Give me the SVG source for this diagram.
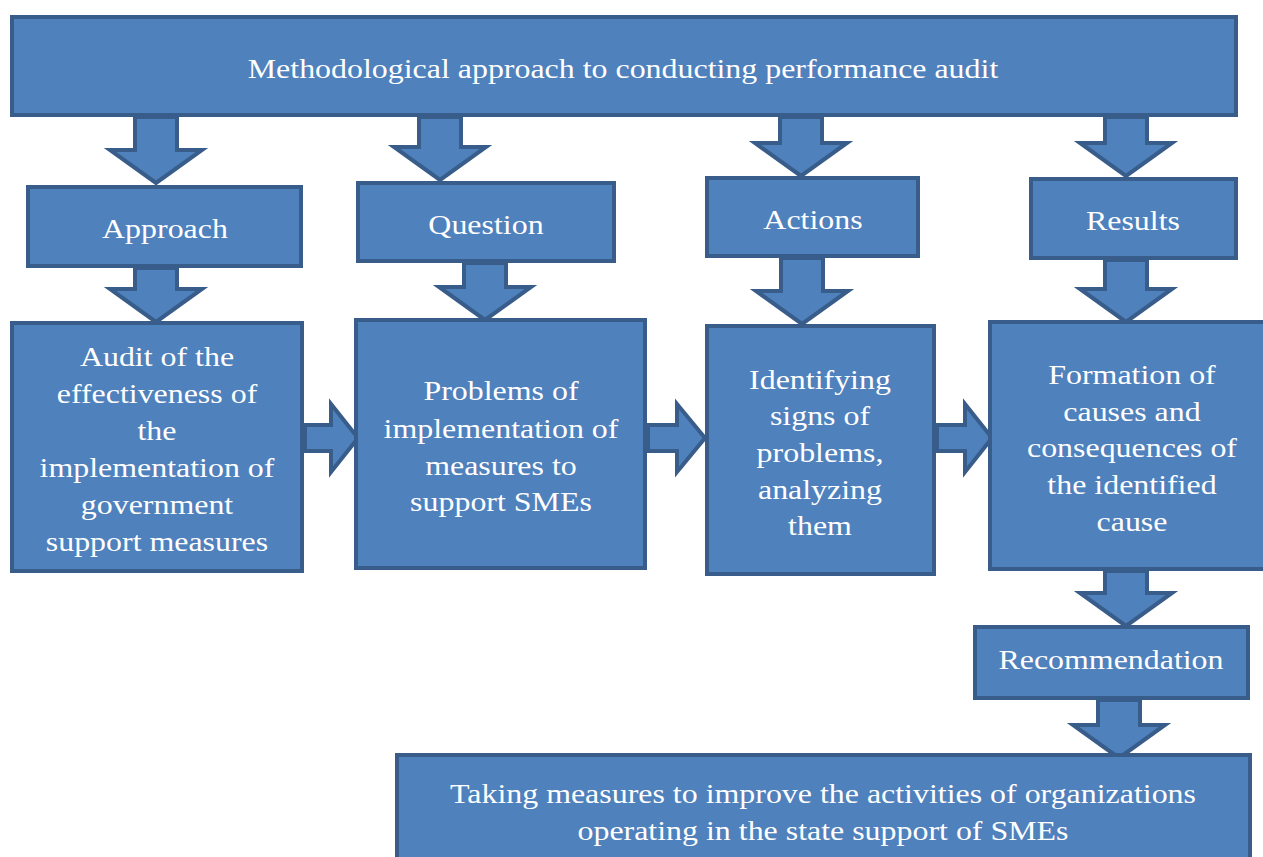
<svg xmlns="http://www.w3.org/2000/svg" width="1263" height="857" viewBox="0 0 1263 857">
<style>
.b{fill:#4F81BD;stroke:#385D8A;stroke-width:4}
.a{fill:#4F81BD;stroke:#385D8A;stroke-width:4;stroke-linejoin:miter}
text{font-family:"Liberation Serif","Times New Roman",serif;font-size:28px;fill:#fff;text-anchor:middle}
</style>
<rect width="1263" height="857" fill="#fff"/>
<g id="connectors">
<path class="a" d="M135 117 H177 V150 H202 L156 183 L110 150 H135 Z"/>
<path class="a" d="M419 117 H461 V147 H486 L440 180 L394 147 H419 Z"/>
<path class="a" d="M780 117 H822 V143 H847 L801 176 L755 143 H780 Z"/>
<path class="a" d="M1105 117 H1147 V143 H1172 L1126 176 L1080 143 H1105 Z"/>
<path class="a" d="M135 268 H177 V289 H202 L156 322 L110 289 H135 Z"/>
<path class="a" d="M464 263 H506 V287 H531 L485 320 L439 287 H464 Z"/>
<path class="a" d="M781 258 H823 V291 H848 L802 324 L756 291 H781 Z"/>
<path class="a" d="M1105 260 H1147 V289 H1172 L1126 322 L1080 289 H1105 Z"/>
<path class="a" d="M1105 571 H1147 V593 H1172 L1126 626 L1080 593 H1105 Z"/>
<path class="a" d="M1098 700 H1140 V725 H1165 L1119 758 L1073 725 H1098 Z"/>
<path class="a" d="M305 425 H331 V404 L358 438 L331 472 V451 H305 Z"/>
<path class="a" d="M648 425 H677 V404 L705 438 L677 472 V451 H648 Z"/>
<path class="a" d="M937 425 H965 V404 L992 438 L965 472 V451 H937 Z"/>
</g>
<g id="top"><rect class="b" x="12" y="17" width="1224" height="98"/><g transform="translate(623,0) scale(1.14,1) translate(-623,0)"><text x="623" y="78">Methodological approach to conducting performance audit</text></g></g>
<g id="approach"><rect class="b" x="28" y="187" width="273" height="79"/><g transform="translate(165,0) scale(1.14,1) translate(-165,0)"><text x="165" y="238">Approach</text></g></g>
<g id="question"><rect class="b" x="358" y="183" width="256" height="78"/><g transform="translate(486,0) scale(1.14,1) translate(-486,0)"><text x="486" y="234">Question</text></g></g>
<g id="actions"><rect class="b" x="707" y="178" width="211" height="78"/><g transform="translate(813,0) scale(1.14,1) translate(-813,0)"><text x="813" y="229">Actions</text></g></g>
<g id="results"><rect class="b" x="1031" y="179" width="205" height="79"/><g transform="translate(1133,0) scale(1.14,1) translate(-1133,0)"><text x="1133" y="230">Results</text></g></g>
<g id="audit"><rect class="b" x="12" y="323" width="290" height="248"/>
<g transform="translate(157,0) scale(1.14,1) translate(-157,0)"><text x="157" y="366">Audit of the</text><text x="157" y="403">effectiveness of</text><text x="157" y="440">the</text><text x="157" y="477">implementation of</text><text x="157" y="514">government</text><text x="157" y="551">support measures</text></g></g>
<g id="problems"><rect class="b" x="356" y="320" width="289" height="248"/>
<g transform="translate(501,0) scale(1.14,1) translate(-501,0)"><text x="501" y="400">Problems of</text><text x="501" y="438">implementation of</text><text x="501" y="475">measures to</text><text x="501" y="511">support SMEs</text></g></g>
<g id="identifying"><rect class="b" x="707" y="326" width="227" height="248"/>
<g transform="translate(820,0) scale(1.14,1) translate(-820,0)"><text x="820" y="389">Identifying</text><text x="820" y="425">signs of</text><text x="820" y="462">problems,</text><text x="820" y="499">analyzing</text><text x="820" y="535">them</text></g></g>
<g id="formation"><rect class="b" x="990" y="322" width="280" height="247"/>
<g transform="translate(1132,0) scale(1.14,1) translate(-1132,0)"><text x="1132" y="384">Formation of</text><text x="1132" y="421">causes and</text><text x="1132" y="457">consequences of</text><text x="1132" y="494">the identified</text><text x="1132" y="531">cause</text></g></g>
<g id="recommendation"><rect class="b" x="975" y="627" width="273" height="71"/><g transform="translate(1111,0) scale(1.14,1) translate(-1111,0)"><text x="1111" y="669">Recommendation</text></g></g>
<g id="taking"><rect class="b" x="397" y="755" width="853" height="110"/>
<g transform="translate(823,0) scale(1.14,1) translate(-823,0)"><text x="823" y="803">Taking measures to improve the activities of organizations</text><text x="823" y="840">operating in the state support of SMEs</text></g></g>
</svg>
